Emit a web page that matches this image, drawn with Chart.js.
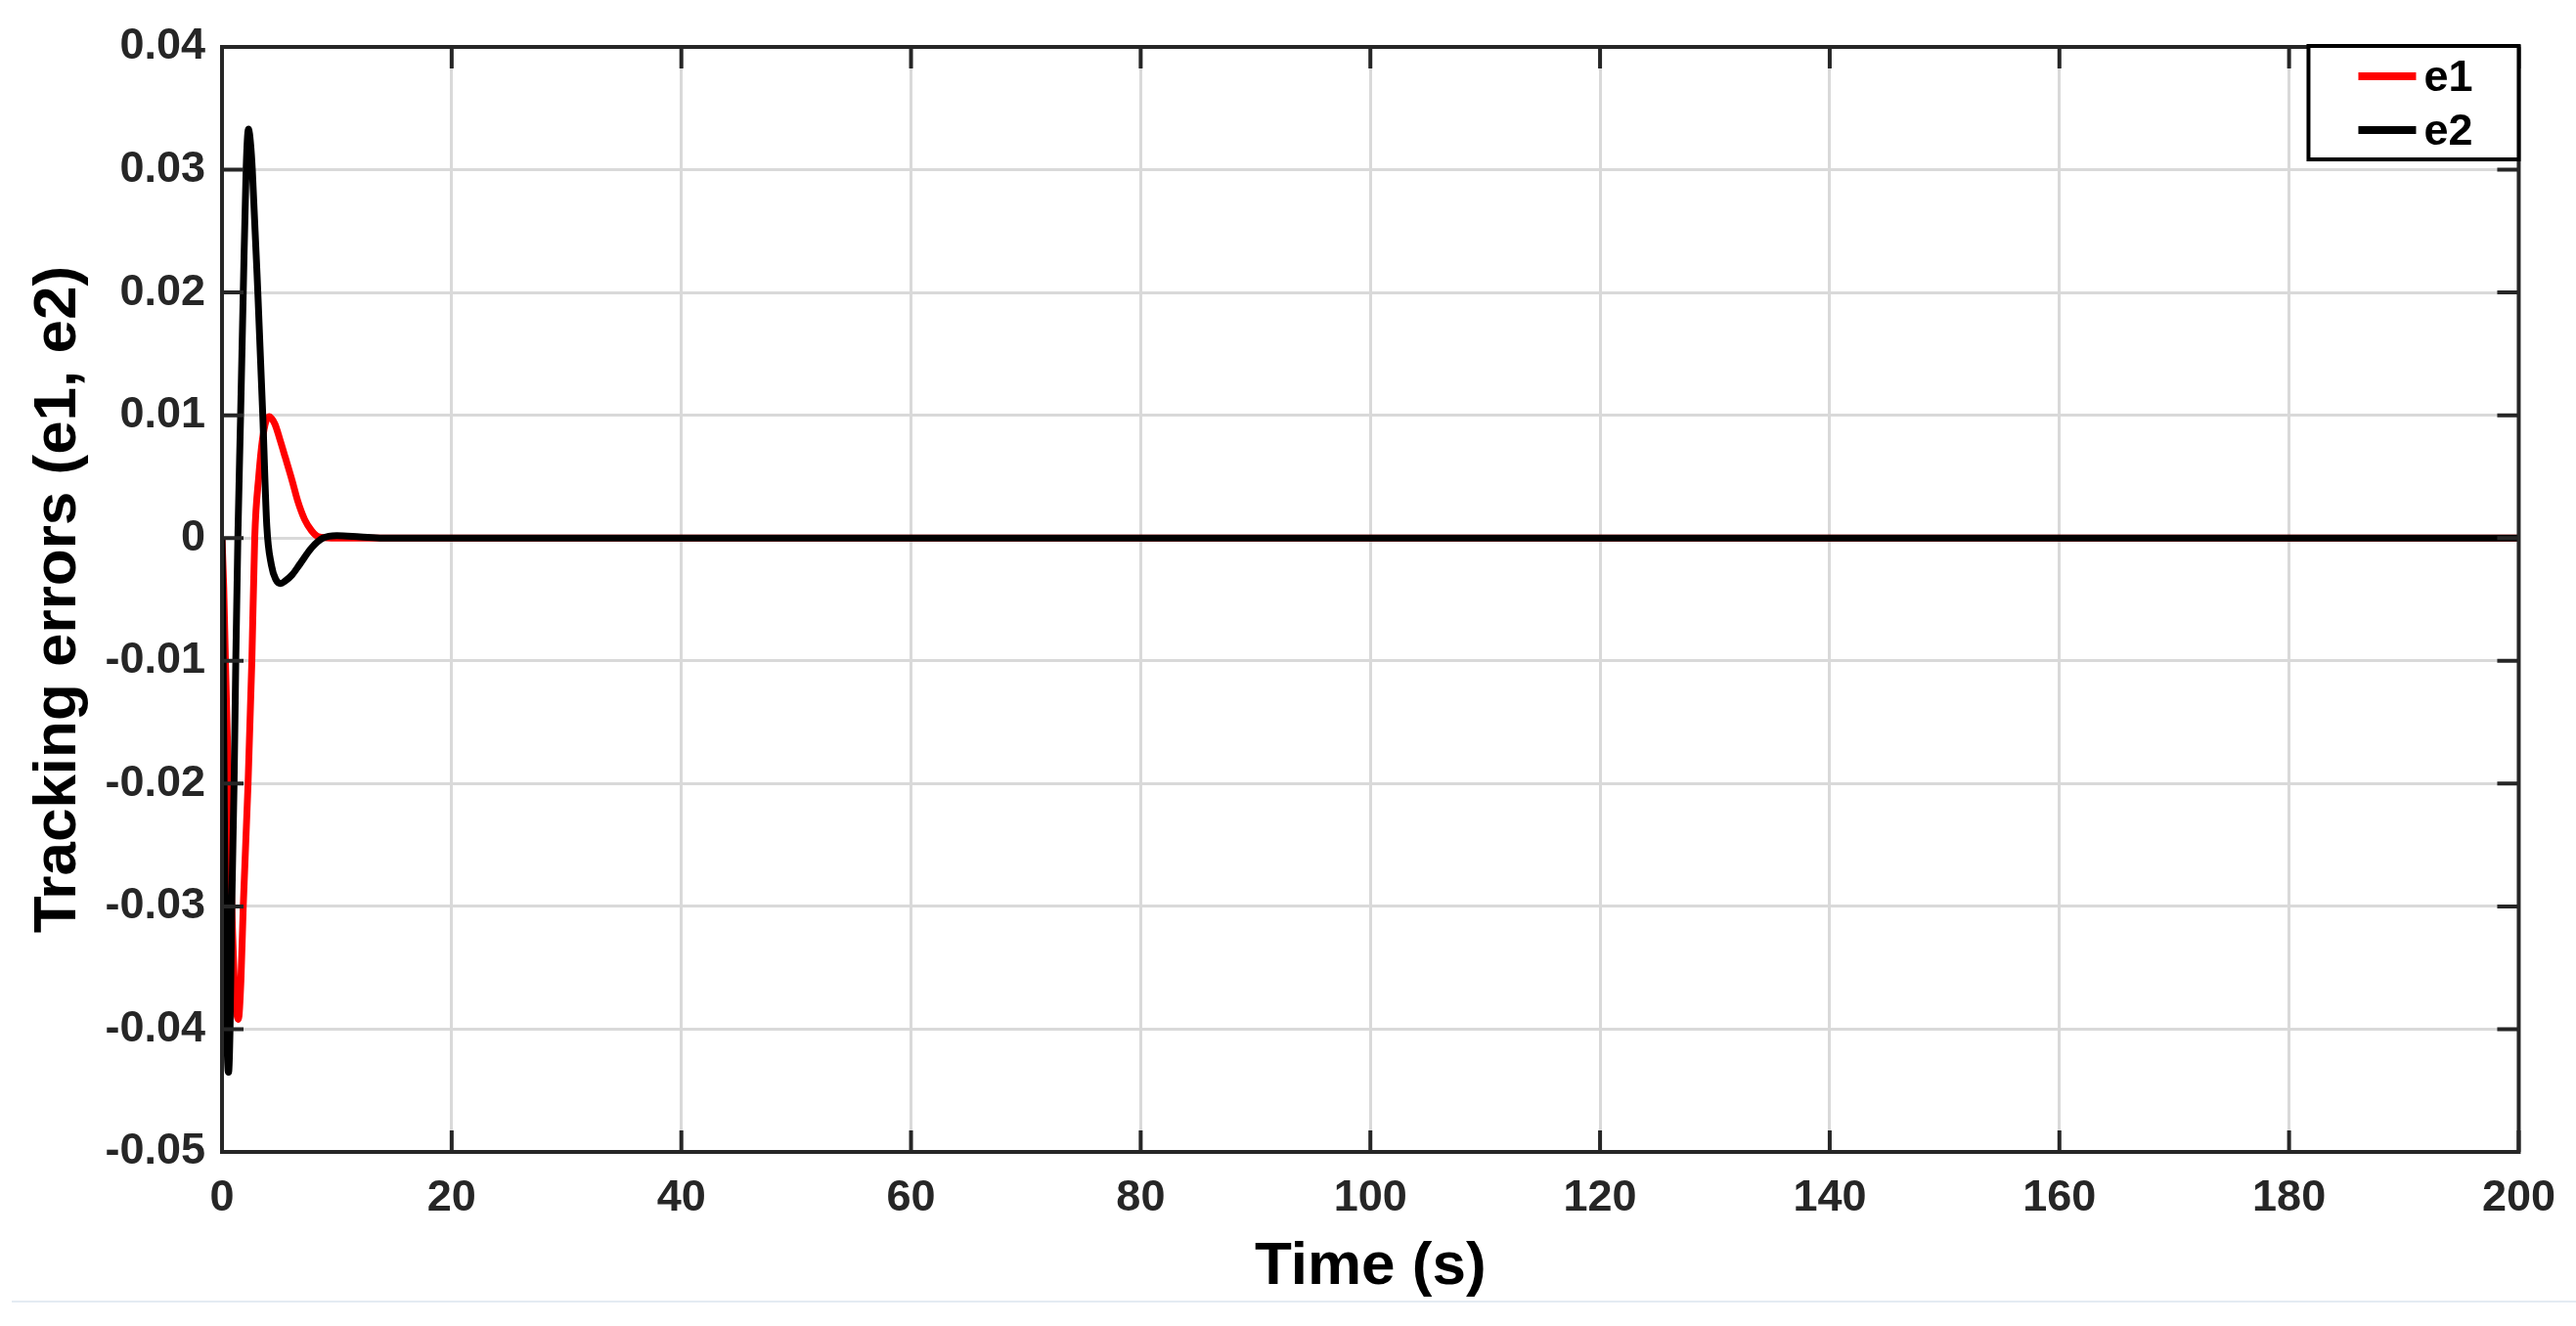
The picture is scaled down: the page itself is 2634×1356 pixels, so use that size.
<!DOCTYPE html>
<html>
<head>
<meta charset="utf-8">
<script src="https://cdn.jsdelivr.net/npm/chart.js@4.4.1/dist/chart.umd.min.js"></script>
<style>
  html, body { margin: 0; padding: 0; background: #fff; }
  canvas { display: block; }
</style>
</head>
<body>
<canvas id="errChart" width="2634" height="1356"></canvas>
<script>
// time (s) and tracking errors
const e1Time = [0, 0.15, 0.3, 0.57, 0.85, 1.1, 1.42, 1.65, 1.85, 2.27, 2.6, 2.85, 3.2, 3.6, 4.1, 4.6, 5.05, 5.5, 6.1, 6.6, 7.2, 7.8, 8.4, 9.5, 20, 200];
const e1Vals = [0, -0.004, -0.010, -0.020, -0.030, -0.0365, -0.0392, -0.036, -0.030, -0.020, -0.010, 0, 0.005, 0.0085, 0.0099, 0.0093, 0.0080, 0.0066, 0.0047, 0.0030, 0.0015, 0.0006, 0.0001, 0, 0, 0];

const e2Time = [0, 0.1, 0.2, 0.3, 0.4, 0.5, 0.57, 0.7, 0.85, 1.05, 1.2, 1.38, 1.62, 1.85, 2.1, 2.3, 2.5, 2.64, 3.12, 3.55, 3.9, 4.3, 4.7, 5.1, 5.5, 6.1, 6.8, 7.8, 8.8, 10, 12, 14, 200];
const e2Vals = [0, -0.010, -0.022, -0.032, -0.039, -0.043, -0.0435, -0.040, -0.030, -0.020, -0.010, 0, 0.010, 0.020, 0.030, 0.0333, 0.032, 0.030, 0.020, 0.010, 0.001, -0.0022, -0.0034, -0.0037, -0.0035, -0.0030, -0.0021, -0.0008, 0, 0.0002, 0.0001, 0, 0];

const xTicks = [0, 20, 40, 60, 80, 100, 120, 140, 160, 180, 200];
const yTicks = [-0.05, -0.04, -0.03, -0.02, -0.01, 0, 0.01, 0.02, 0.03, 0.04];

const toPoints = (xs, ys) => xs.map((x, i) => ({ x: x, y: ys[i] }));

const FONT = "'Liberation Sans', Arial, Helvetica, sans-serif";

// matlab style box, inward ticks and boxed legend
const matlabAxes = {
  id: 'matlabAxes',
  afterDatasetsDraw(chart) {
    const { ctx, chartArea: a, scales } = chart;
    const len = 22;
    ctx.save();
    ctx.strokeStyle = '#262626';
    ctx.lineWidth = 4;
    ctx.beginPath();
    scales.x.ticks.forEach(t => {
      const px = scales.x.getPixelForValue(t.value);
      ctx.moveTo(px, a.bottom); ctx.lineTo(px, a.bottom - len);
      ctx.moveTo(px, a.top); ctx.lineTo(px, a.top + len);
    });
    scales.y.ticks.forEach(t => {
      const py = scales.y.getPixelForValue(t.value);
      ctx.moveTo(a.left, py); ctx.lineTo(a.left + len, py);
      ctx.moveTo(a.right, py); ctx.lineTo(a.right - len, py);
    });
    ctx.stroke();
    ctx.strokeRect(a.left, a.top, a.right - a.left, a.bottom - a.top);
    ctx.restore();
  },
  afterDraw(chart) {
    const { ctx, chartArea: a } = chart;
    ctx.save();
    // legend box
    const w = 215, h = 116;
    const bx = a.right - w, by = a.top - 1;
    ctx.fillStyle = '#fff';
    ctx.fillRect(bx, by, w, h);
    ctx.strokeStyle = '#000';
    ctx.lineWidth = 4;
    ctx.strokeRect(bx, by, w, h);
    ctx.font = 'bold 45px ' + FONT;
    ctx.textBaseline = 'middle';
    ctx.textAlign = 'left';
    chart.data.datasets.forEach((ds, i) => {
      const y = by + 31 + i * 55;
      ctx.strokeStyle = ds.borderColor;
      ctx.lineWidth = 8;
      ctx.beginPath();
      ctx.moveTo(bx + 51, y);
      ctx.lineTo(bx + 110, y);
      ctx.stroke();
      ctx.fillStyle = '#000';
      ctx.fillText(ds.label, bx + 118, y + 3);
    });
    // faint line near bottom of the picture
    ctx.strokeStyle = '#e4ebf3';
    ctx.lineWidth = 2;
    ctx.beginPath();
    ctx.moveTo(12, 1331);
    ctx.lineTo(chart.width, 1331);
    ctx.stroke();
    ctx.restore();
  }
};

const ctx = document.getElementById('errChart').getContext('2d');

new Chart(ctx, {
  type: 'line',
  data: {
    datasets: [
      {
        label: 'e1',
        data: toPoints(e1Time, e1Vals),
        borderColor: '#ff0000',
        borderWidth: 7,
        pointRadius: 0,
        cubicInterpolationMode: 'monotone',
        order: 1
      },
      {
        label: 'e2',
        data: toPoints(e2Time, e2Vals),
        borderColor: '#000000',
        borderWidth: 7,
        pointRadius: 0,
        cubicInterpolationMode: 'monotone',
        order: 0
      }
    ]
  },
  options: {
    responsive: false,
    animation: false,
    devicePixelRatio: 1,
    layout: { padding: { top: 48, right: 57, left: 0, bottom: 0 } },
    plugins: {
      legend: { display: false },
      tooltip: { enabled: false }
    },
    scales: {
      x: {
        type: 'linear',
        min: 0,
        max: 200,
        afterFit: s => { s.height = 178; },
        afterBuildTicks: s => { s.ticks = xTicks.map(v => ({ value: v })); },
        grid: { color: '#d9d9d9', lineWidth: 3, drawTicks: false },
        border: { display: false },
        ticks: {
          autoSkip: false,
          maxRotation: 0,
          padding: 21,
          color: '#262626',
          font: { family: FONT, size: 45, weight: 'bold' }
        },
        title: {
          display: true,
          text: 'Time (s)',
          color: '#000',
          padding: { top: 0, bottom: 23 },
          font: { family: FONT, size: 62, weight: 'bold' }
        }
      },
      y: {
        min: -0.05,
        max: 0.04,
        afterFit: s => { s.width = 227; },
        afterBuildTicks: s => { s.ticks = yTicks.map(v => ({ value: v })); },
        grid: { color: '#d9d9d9', lineWidth: 3, drawTicks: false },
        border: { display: false },
        ticks: {
          autoSkip: false,
          padding: 17,
          color: '#262626',
          font: { family: FONT, size: 45, weight: 'bold' },
          callback: v => (Math.abs(v) < 1e-9 ? '0' : v.toFixed(2))
        },
        title: {
          display: true,
          text: 'Tracking errors (e1, e2)',
          color: '#000',
          padding: { top: 23, bottom: 0 },
          font: { family: FONT, size: 62, weight: 'bold' }
        }
      }
    }
  },
  plugins: [matlabAxes]
});
</script>
</body>
</html>
